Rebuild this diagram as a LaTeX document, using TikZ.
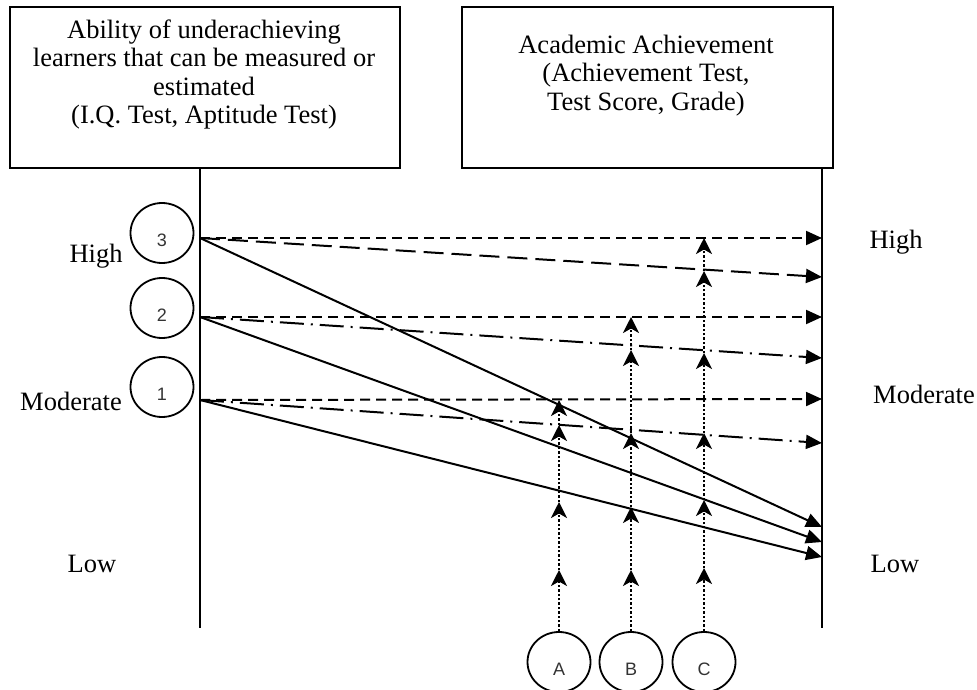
\documentclass[tikz,border=0pt]{standalone}
\usepackage{fontspec}
\setmainfont{Liberation Serif}
\newfontfamily\diasans{Liberation Sans}
\usetikzlibrary{arrows.meta,shapes.geometric}
\newlength{\du}
\setlength{\du}{1pt}
\definecolor{dialinecolor}{rgb}{0.000000, 0.000000, 0.000000}
\definecolor{diafillcolor}{rgb}{1.000000, 1.000000, 1.000000}
\definecolor{diagreycolor}{rgb}{0.200000, 0.200000, 0.200000}
\tikzset{
  diabox/.style={draw=dialinecolor, line width=2pt, minimum height=161pt, inner sep=0pt},
  diatext/.style={align=center, inner sep=0pt, font=\fontsize{26.5}{28.5}\selectfont},
  dialevel/.style={anchor=base, inner sep=0pt, font=\fontsize{26.5}{28.5}\selectfont},
  diacircle/.style={draw=dialinecolor, line width=1.8pt, ellipse, minimum width=63pt, minimum height=60pt,
    inner sep=0pt, text height=27pt, text depth=0pt, text=diagreycolor, font=\diasans\fontsize{18}{18}\selectfont},
  diaaxis/.style={draw=dialinecolor, line width=2pt},
  diaarrow/.style={draw=dialinecolor, line width=2pt, -{Triangle[length=16pt,width=14pt]}},
  diadash/.style={diaarrow, dash pattern=on 10pt off 6pt},
  dialongdash/.style={diaarrow, dash pattern=on 20pt off 8pt},
  diadashdot/.style={diaarrow, dash pattern=on 24pt off 7pt on 2pt off 7pt},
  diadots/.style={draw=dialinecolor, line width=2.4pt, dash pattern=on 2.4pt off 2pt,
    -{Stealth[length=16pt,width=16pt,inset=4.5pt]}}
}
\begin{document}
\begin{tikzpicture}[even odd rule]
\pgftransformxscale{1.000000}
\pgftransformyscale{-1.000000}
\useasboundingbox (0\du,0\du) rectangle (977\du,690\du);
% the two boxes
\node[diabox, minimum width=390pt] (abilitybox) at (205\du,87.5\du) {};
\node[diatext] (abilitytext) at (204\du,74.5\du) {Ability of underachieving\\learners that can be measured or\\estimated\\(I.Q. Test, Aptitude Test)};
\node[diabox, minimum width=371pt] (achievebox) at (647.5\du,87.5\du) {};
\node[diatext] (achievetext) at (646\du,75.5\du) {Academic Achievement\\(Achievement Test,\\Test Score, Grade)};
% the two axes
\coordinate (leftaxis) at (200\du,628\du);
\coordinate (rightaxis) at (822\du,628\du);
\draw[diaaxis] (abilitybox.south -| leftaxis) -- (leftaxis);
\draw[diaaxis] (achievebox.south -| rightaxis) -- (rightaxis);
% level labels
\node[dialevel] (lefthigh) at (96\du,262\du) {High};
\node[dialevel] (leftmoderate) at (71\du,410\du) {Moderate};
\node[dialevel] (leftlow) at (92\du,572\du) {Low};
\node[dialevel] (righthigh) at (896\du,248\du) {High};
\node[dialevel] (rightmoderate) at (924\du,403\du) {Moderate};
\node[dialevel] (rightlow) at (895\du,572\du) {Low};
% ability circles
\node[diacircle] (c3) at (162\du,233\du) {3};
\node[diacircle] (c2) at (162\du,308\du) {2};
\node[diacircle] (c1) at (162\du,387\du) {1};
% start points on the left axis
\coordinate (s3) at (200\du,238\du);
\coordinate (s2) at (200\du,317\du);
\coordinate (s1) at (200\du,400\du);
% end points on the right axis
\coordinate (e3a) at (822\du,238\du);
\coordinate (e3b) at (822\du,277\du);
\coordinate (e3c) at (822\du,527\du);
\coordinate (e2a) at (822\du,317\du);
\coordinate (e2b) at (822\du,358\du);
\coordinate (e2c) at (822\du,542\du);
\coordinate (e1a) at (822\du,399\du);
\coordinate (e1b) at (822\du,443\du);
\coordinate (e1c) at (822\du,557\du);
% level 3
\draw[diadash] (s3) -- (e3a);
\draw[dialongdash] (s3) -- (e3b);
\draw[diaarrow] (s3) -- (e3c);
% level 2
\draw[diadash] (s2) -- (e2a);
\draw[diadashdot] (s2) -- (e2b);
\draw[diaarrow] (s2) -- (e2c);
% level 1
\draw[diadash] (s1) -- (e1a);
\draw[diadashdot] (s1) -- (e1b);
\draw[diaarrow] (s1) -- (e1c);
% learner circles
\node[diacircle] (cA) at (559\du,662\du) {A};
\node[diacircle] (cB) at (631\du,662\du) {B};
\node[diacircle] (cC) at (704\du,662\du) {C};
% dotted arrows of A
\coordinate (a1) at (559\du,570\du);
\coordinate (a2) at (559\du,502\du);
\coordinate (a3) at (559\du,425\du);
\coordinate (a4) at (559\du,400\du);
\draw[diadots] (cA.north) -- (a1);
\draw[diadots] (a1) -- (a2);
\draw[diadots] (a2) -- (a3);
\draw[diadots] (a3) -- (a4);
% dotted arrows of B
\coordinate (b1) at (631\du,570\du);
\coordinate (b2) at (631\du,507\du);
\coordinate (b3) at (631\du,433\du);
\coordinate (b4) at (631\du,350\du);
\coordinate (b5) at (631\du,317\du);
\draw[diadots] (cB.north) -- (b1);
\draw[diadots] (b1) -- (b2);
\draw[diadots] (b2) -- (b3);
\draw[diadots] (b3) -- (b4);
\draw[diadots] (b4) -- (b5);
% dotted arrows of C
\coordinate (k1) at (704\du,568\du);
\coordinate (k2) at (704\du,500\du);
\coordinate (k3) at (704\du,433\du);
\coordinate (k4) at (704\du,353\du);
\coordinate (k5) at (704\du,271\du);
\coordinate (k6) at (704\du,238\du);
\draw[diadots] (cC.north) -- (k1);
\draw[diadots] (k1) -- (k2);
\draw[diadots] (k2) -- (k3);
\draw[diadots] (k3) -- (k4);
\draw[diadots] (k4) -- (k5);
\draw[diadots] (k5) -- (k6);
\end{tikzpicture}
\end{document}
